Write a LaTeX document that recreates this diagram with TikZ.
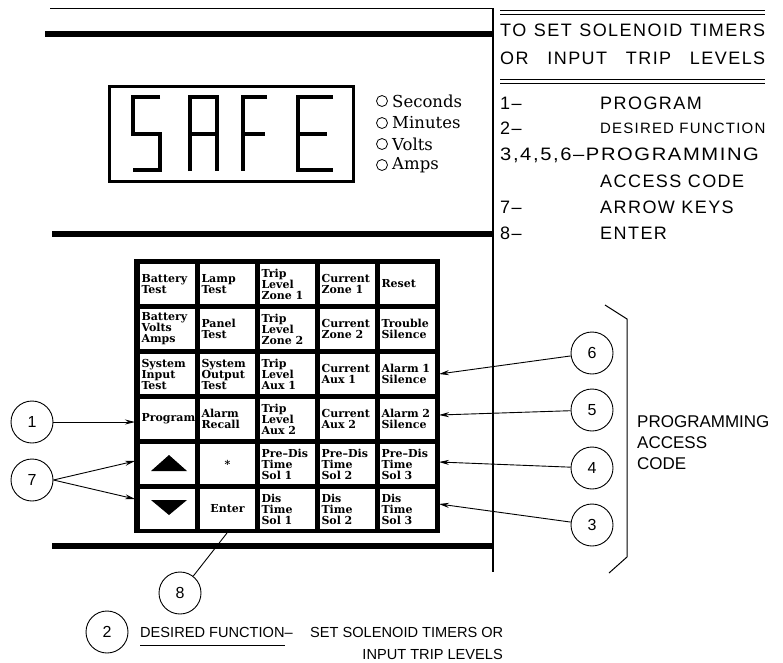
\documentclass[tikz,border=0pt]{standalone}
\usepackage{fontspec}
\usepackage{graphicx}
\newfontfamily\cad[LetterSpace=8]{Liberation Sans}
\newfontfamily\cadn{Liberation Sans}
\newfontfamily\indfont{DejaVu Serif}
\newfontfamily\keyfont{DejaVu Serif}
\usetikzlibrary{arrows.meta}
\tikzset{
  cell/.style={fill=white, inner xsep=1.5pt, inner ysep=0pt, text width=52pt,
    minimum height=40pt, align=left, font=\keyfont\bfseries\fontsize{11}{11}\selectfont},
  ccell/.style={cell, align=center},
  callout/.style={circle, draw, line width=0.9pt, minimum size=42pt, inner sep=0pt,
    font=\cadn\fontsize{16}{16}\selectfont},
  arr/.style={line width=0.9pt, -{Stealth[length=10pt,width=5pt]}},
  bar/.style={line width=6pt},
  seg/.style={line width=4.5pt, line cap=butt, line join=miter},
  rtxt/.style={anchor=west, inner sep=0pt, font=\cad\fontsize{18}{18}\selectfont},
  rsmall/.style={anchor=west, inner sep=0pt, font=\cad\fontsize{15}{15}\selectfont},
  btxt/.style={inner sep=0pt, font=\cadn\fontsize{14.6}{14.6}\selectfont},
  ind/.style={circle, draw, line width=0.8pt, minimum size=11pt, inner sep=0pt},
  indlab/.style={anchor=west, inner sep=0pt, font=\indfont\fontsize{16.5}{16.5}\selectfont},
}
\begin{document}
\begin{tikzpicture}[x=1pt,y=-1pt]
\useasboundingbox (0,0) rectangle (783,662);
% frame lines
\draw[line width=1pt] (50,8) -- (493,8);
\draw[line width=1.2pt] (493,8) -- (493,572);
\draw[bar] (45,34) -- (493,34);
\draw[bar] (52,234) -- (493,234);
\draw[bar] (52,546) -- (493,546);
% display
\draw[line width=3pt] (109,86) rectangle (353,181);
\draw[seg] (160,97) -- (133,97) -- (133,134) -- (160,134) -- (160,170) -- (133,170);
\draw[seg] (190,171) -- (190,97) -- (217,97) -- (217,171);
\draw[seg] (190,134) -- (217,134);
\draw[seg] (267,97) -- (243,97) -- (243,171);
\draw[seg] (243,134) -- (265,134);
\draw[seg] (333,97) -- (298,97) -- (298,170) -- (333,170);
\draw[seg] (298,134) -- (327,134);
% indicators
\node[ind] (i1) at (382,101) {};
\node[ind] (i2) at (382,123) {};
\node[ind] (i3) at (382,144) {};
\node[ind] (i4) at (382,165) {};
\node[indlab] (l1) at (392,101) {Seconds};
\node[indlab] (l2) at (392,123) {Minutes};
\node[indlab] (l3) at (392,144) {Volts};
\node[indlab] (l4) at (392,165) {Amps};
% right text block
\draw[line width=1pt] (500,10) -- (765,10);
\draw[line width=1pt] (500,14) -- (765,14);
\draw[line width=1pt] (500,79) -- (765,79);
\draw[line width=1pt] (500,83) -- (765,83);
\node[rtxt] (r1) at (500,30) {\makebox[265pt][s]{TO SET SOLENOID TIMERS}};
\node[rtxt] (r2) at (500,58) {\makebox[265pt][s]{OR INPUT TRIP LEVELS}};
\node[rtxt] (r3a) at (500,103) {1–};
\node[rtxt] (r3b) at (600,103) {PROGRAM};
\node[rtxt] (r4a) at (500,128) {2–};
\node[rsmall] (r4b) at (600,128) {DESIRED FUNCTION};
\node[rtxt] (r5) at (500,155) {\scalebox{1.12}[1]{3,4,5,6–PROGRAMMING}};
\node[rtxt] (r6) at (600,181) {ACCESS CODE};
\node[rtxt] (r7a) at (500,207) {7–};
\node[rtxt] (r7b) at (600,207) {ARROW KEYS};
\node[rtxt] (r8a) at (500,233) {8–};
\node[rtxt] (r8b) at (600,233) {ENTER};
% keypad
\fill (134,259) rectangle (440,533);
\node[cell] (k11) at (167.5,284) {Battery\\Test};
\node[cell] (k12) at (227.5,284) {Lamp\\Test};
\node[cell] (k13) at (287.5,284) {Trip\\Level\\Zone 1};
\node[cell] (k14) at (347.5,284) {Current\\Zone 1};
\node[cell] (k15) at (407.5,284) {Reset};
\node[cell] (k21) at (167.5,329) {Battery\\Volts\\Amps};
\node[cell] (k22) at (227.5,329) {Panel\\Test};
\node[cell] (k23) at (287.5,329) {Trip\\Level\\Zone 2};
\node[cell] (k24) at (347.5,329) {Current\\Zone 2};
\node[cell] (k25) at (407.5,329) {Trouble\\Silence};
\node[cell] (k31) at (167.5,374) {System\\Input\\Test};
\node[cell] (k32) at (227.5,374) {System\\Output\\Test};
\node[cell] (k33) at (287.5,374) {Trip\\Level\\Aux 1};
\node[cell] (k34) at (347.5,374) {Current\\Aux 1};
\node[cell] (k35) at (407.5,374) {Alarm 1\\Silence};
\node[cell] (k41) at (167.5,419) {Program};
\node[cell] (k42) at (227.5,419) {Alarm\\Recall};
\node[cell] (k43) at (287.5,419) {Trip\\Level\\Aux 2};
\node[cell] (k44) at (347.5,419) {Current\\Aux 2};
\node[cell] (k45) at (407.5,419) {Alarm 2\\Silence};
\node[cell] (k51) at (167.5,464) {};
\node[ccell] (k52) at (227.5,464) {*};
\node[cell] (k53) at (287.5,464) {Pre–Dis\\Time\\Sol 1};
\node[cell] (k54) at (347.5,464) {Pre–Dis\\Time\\Sol 2};
\node[cell] (k55) at (407.5,464) {Pre–Dis\\Time\\Sol 3};
\node[cell] (k61) at (167.5,509) {};
\node[ccell] (k62) at (227.5,509) {Enter};
\node[cell] (k63) at (287.5,509) {Dis\\Time\\Sol 1};
\node[cell] (k64) at (347.5,509) {Dis\\Time\\Sol 2};
\node[cell] (k65) at (407.5,509) {Dis\\Time\\Sol 3};
\fill (151,471) -- (187,471) -- (169,455) -- cycle;
\fill (151,500) -- (187,500) -- (169,515) -- cycle;
% callouts
\node[callout] (c1) at (32,422) {1};
\node[callout] (c7) at (32,480) {7};
\node[callout] (c6) at (592,353) {6};
\node[callout] (c5) at (592,410) {5};
\node[callout] (c4) at (592,468) {4};
\node[callout] (c3) at (592,525) {3};
\node[callout] (c8) at (180,593) {8};
\node[callout] (c2) at (107,632) {2};
\coordinate (t1) at (135,422);
\coordinate (t7a) at (135,461);
\coordinate (t7b) at (135,499);
\coordinate (t6) at (439,374);
\coordinate (t5) at (439,415);
\coordinate (t4) at (439,462);
\coordinate (t3) at (439,504);
\coordinate (t8) at (227,533);
\draw[arr] (c1) -- (t1);
\draw[arr] (c7.east) -- (t7a);
\draw[arr] (c7.east) -- (t7b);
\draw[arr] (c6) -- (t6);
\draw[arr] (c5) -- (t5);
\draw[arr] (c4) -- (t4);
\draw[arr] (c3) -- (t3);
\draw[line width=0.9pt] (c8) -- (t8);
% bracket
\draw[line width=1pt] (605,305) -- (627,319) -- (627,557) -- (609,573);
\node[anchor=west, inner sep=0pt, align=left, font=\cadn\fontsize{17}{21}\selectfont] (pac) at (637,443) {PROGRAMMING\\ACCESS\\CODE};
% bottom text
\node[btxt, anchor=west] (b1) at (140,632) {DESIRED FUNCTION–};
\node[btxt, anchor=west] (b2) at (310,632) {SET SOLENOID TIMERS OR};
\node[btxt, anchor=east] (b3) at (503,654) {INPUT TRIP LEVELS};
\draw[line width=0.9pt] (140,645) -- (285,645);
\end{tikzpicture}
\end{document}
